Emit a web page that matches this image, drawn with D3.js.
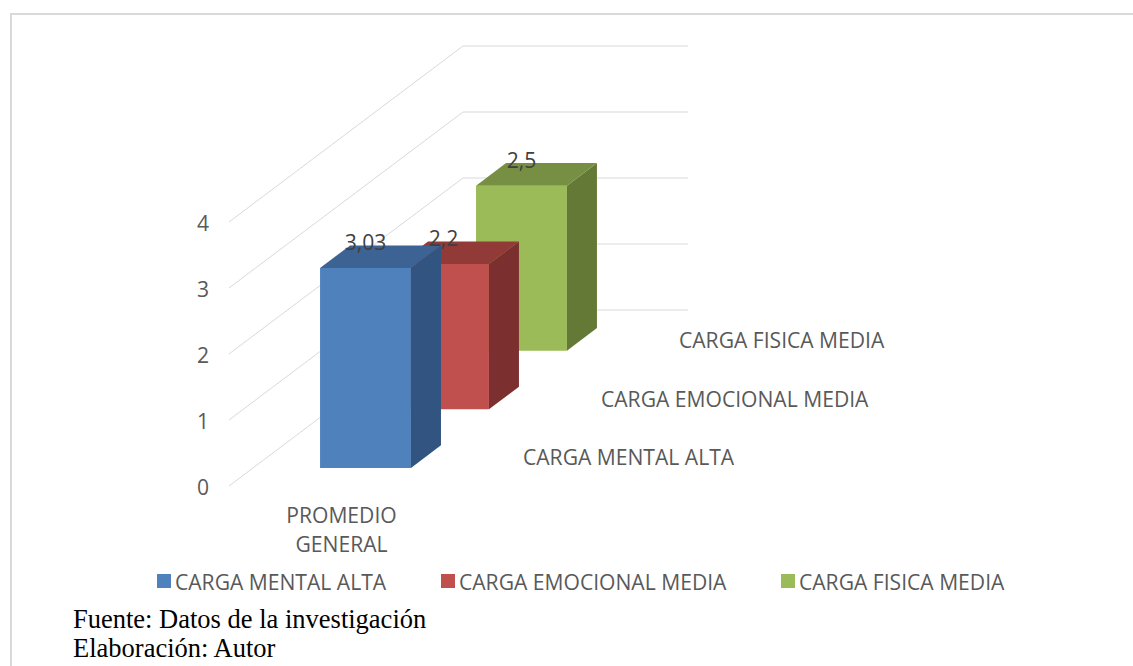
<!DOCTYPE html>
<html>
<head>
<meta charset="utf-8">
<script src="https://cdn.jsdelivr.net/npm/d3@7"></script>
<style>
  html, body { margin: 0; padding: 0; background: #fff; }
  svg { display: block; }
  .lbl { font-family: "Open Sans", sans-serif; fill: #595959; }
  .foot { font-family: "Liberation Serif", "Times New Roman", serif; fill: #000; }
</style>
</head>
<body>
<svg id="chart"></svg>
<script>
// datos
const categorias = ["PROMEDIO GENERAL"];
const series = ["CARGA MENTAL ALTA", "CARGA EMOCIONAL MEDIA", "CARGA FISICA MEDIA"];
const valores = [3.03, 2.2, 2.5];
const etiquetas = ["3,03", "2,2", "2,5"];
const ticks = [0, 1, 2, 3, 4];

const colores = [
  { frente: "#4f81bd", lado: "#325480", arriba: "#3c6393" },
  { frente: "#c0504d", lado: "#7b2f2e", arriba: "#913a37" },
  { frente: "#9bbb59", lado: "#647935", arriba: "#778f43" }
];

const W = 1133, H = 666;
const fs = 21.1;
const svg = d3.select("#chart").attr("width", W).attr("height", H);

// marco
svg.append("rect")
  .attr("x", 11).attr("y", 14)
  .attr("width", W).attr("height", H)
  .attr("fill", "none").attr("stroke", "#d9d9d9").attr("stroke-width", 2);

// origen y vector de profundidad
const x0 = 229, y0 = 486;
const fondoX = 234, fondoY = 176;

const y = d3.scaleLinear().domain([0, 4]).range([0, 264]);
const x = d3.scaleBand().domain(categorias).range([0, 225])
  .paddingInner(0.596).paddingOuter(0.298);
const z = d3.scaleBand().domain(series).range([0, 1])
  .paddingInner(0.615).paddingOuter(0.3077);

// proyeccion: (x, valor, profundidad) -> pantalla
function P(px, v, d) {
  return [x0 + px + d * fondoX, y0 - y(v) - d * fondoY];
}

const grid = svg.append("g");
ticks.forEach(t => {
  let a = P(0, t, 0), b = P(0, t, 1), c = P(225, t, 1);
  grid.append("path")
    .attr("d", `M${a[0]},${a[1]}L${b[0]},${b[1]}L${c[0]},${c[1]}`)
    .attr("fill", "none").attr("stroke", "#d9d9d9").attr("stroke-width", 1);
  svg.append("text").attr("class", "lbl")
    .attr("x", 209).attr("y", a[1])
    .attr("text-anchor", "end").attr("dominant-baseline", "central")
    .attr("font-size", fs)
    .text(t);
});

// barras, de atras hacia adelante
const barras = svg.append("g");
const orden = d3.range(series.length).reverse();
orden.forEach(i => {
  const s = series[i], v = valores[i], c = colores[i];
  const xa = x(categorias[0]), xb = xa + x.bandwidth();
  const da = z(s), db = da + z.bandwidth();
  const pts = arr => arr.map(p => p.join(",")).join(" ");

  const fbl = P(xa, 0, da), fbr = P(xb, 0, da), ftl = P(xa, v, da), ftr = P(xb, v, da);
  const bbr = P(xb, 0, db), btl = P(xa, v, db), btr = P(xb, v, db);

  barras.append("polygon").attr("points", pts([fbl, fbr, ftr, ftl])).attr("fill", c.frente);
  barras.append("polygon").attr("points", pts([fbr, bbr, btr, ftr])).attr("fill", c.lado);
  barras.append("polygon").attr("points", pts([ftl, ftr, btr, btl])).attr("fill", c.arriba);
});

// etiquetas de datos
series.forEach((s, i) => {
  const xm = x(categorias[0]) + x.bandwidth() / 2;
  const p = P(xm, valores[i], z(s));
  svg.append("text").attr("class", "lbl")
    .attr("x", p[0]).attr("y", p[1] - 18)
    .attr("text-anchor", "middle")
    .attr("font-size", fs).style("fill", "#404040")
    .text(etiquetas[i]);
});

// eje de profundidad (series)
series.forEach(s => {
  const p = P(225, 0, z(s) + z.bandwidth() / 2);
  svg.append("text").attr("class", "lbl")
    .attr("x", p[0] + 30).attr("y", p[1])
    .attr("dominant-baseline", "central")
    .attr("font-size", fs)
    .text(s);
});

// categoria
categorias.forEach(cat => {
  const cx = x0 + x(cat) + x.bandwidth() / 2;
  const t = svg.append("text").attr("class", "lbl")
    .attr("text-anchor", "middle").attr("font-size", fs);
  t.append("tspan").attr("x", cx).attr("y", y0 + 37).text("PROMEDIO");
  t.append("tspan").attr("x", cx).attr("y", y0 + 66).text("GENERAL");
});

// leyenda
const leyX = [157, 441, 781];
series.forEach((s, i) => {
  svg.append("rect")
    .attr("x", leyX[i]).attr("y", 574)
    .attr("width", 14).attr("height", 14)
    .attr("fill", colores[i].frente);
  svg.append("text").attr("class", "lbl")
    .attr("x", leyX[i] + 18).attr("y", 581)
    .attr("dominant-baseline", "central")
    .attr("font-size", fs)
    .text(s);
});

// fuente
svg.append("text").attr("class", "foot")
  .attr("x", 73).attr("y", 628).attr("font-size", 26.5)
  .text("Fuente: Datos de la investigación");
svg.append("text").attr("class", "foot")
  .attr("x", 73).attr("y", 657).attr("font-size", 26.5)
  .text("Elaboración: Autor");
</script>
</body>
</html>
